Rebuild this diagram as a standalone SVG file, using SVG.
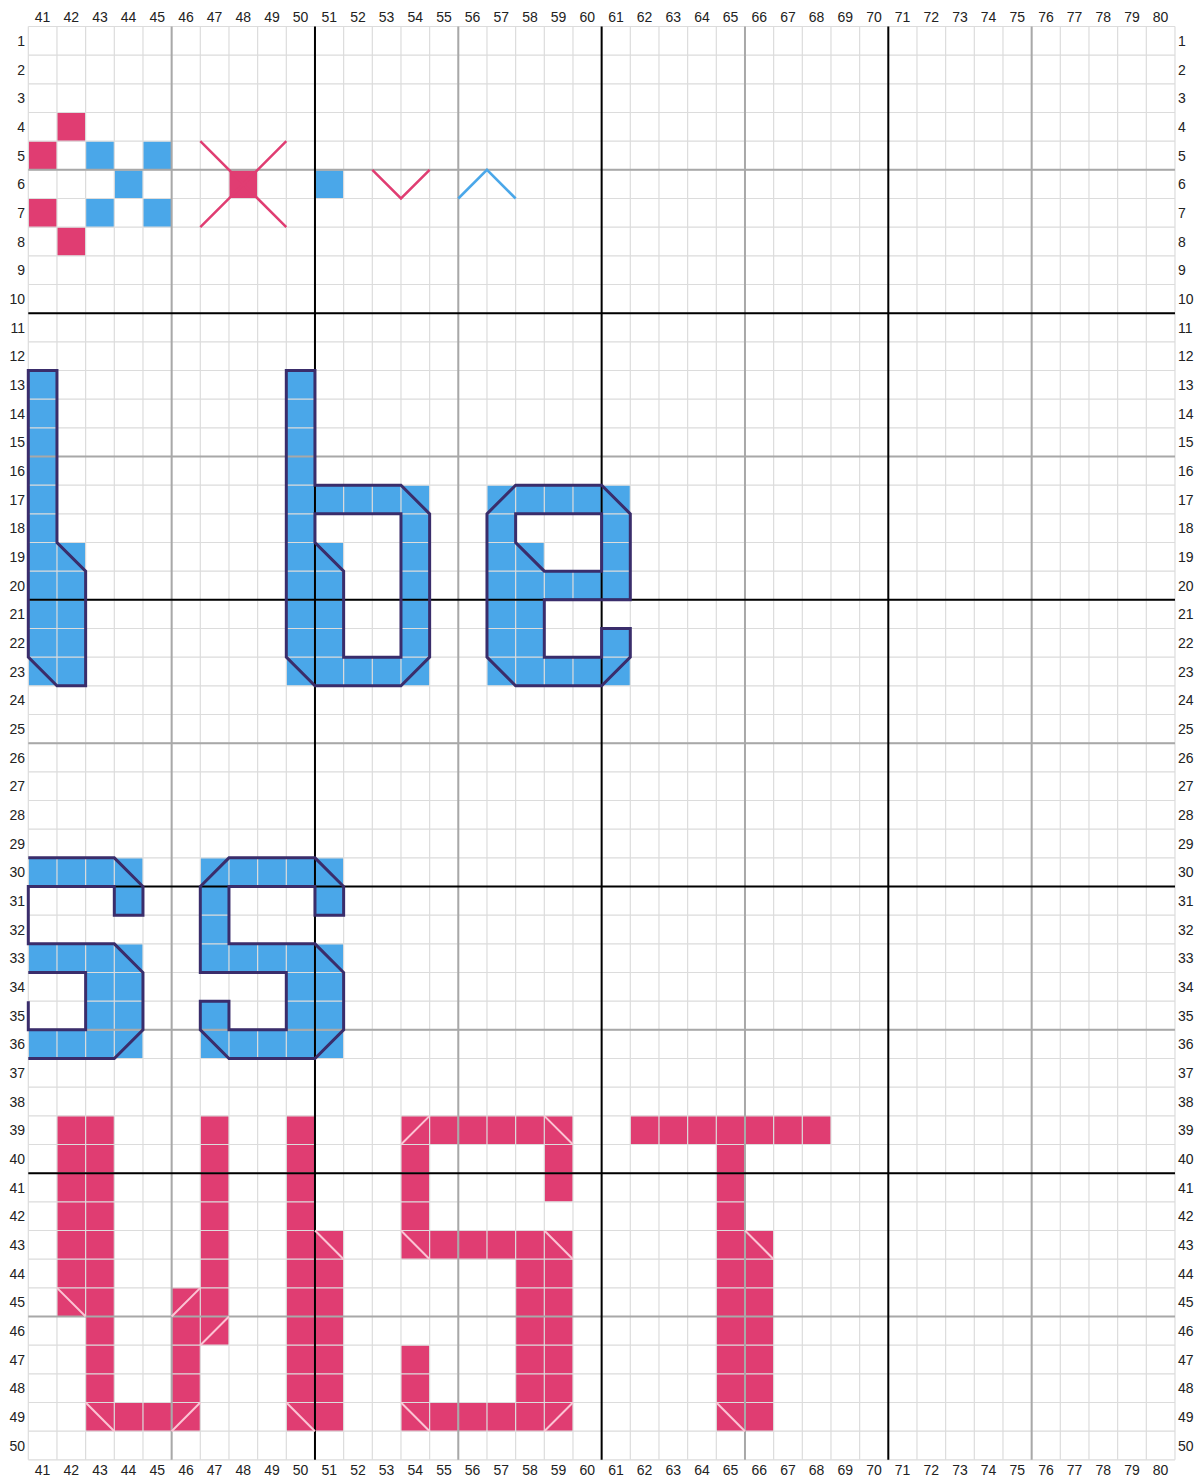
<svg xmlns="http://www.w3.org/2000/svg" width="1198" height="1477" viewBox="0 0 1198 1477">
<style>
.lbl{font-family:"Liberation Sans",Arial,sans-serif;font-size:14px;fill:#222}
.mid{text-anchor:middle}
.end{text-anchor:end}
.bl{fill:#4aa7e9}
.pk{fill:#e03d72}
.gl{fill:none;stroke:#dcdcdc;stroke-width:1.2;vector-effect:non-scaling-stroke}
.gg{fill:none;stroke:#a8a8a8;stroke-width:2;vector-effect:non-scaling-stroke}
.gk{fill:none;stroke:#000;stroke-width:2;vector-effect:non-scaling-stroke}
.ol{fill:none;stroke:#3a2d6b;stroke-width:3;stroke-linejoin:miter;vector-effect:non-scaling-stroke}
.dg{fill:none;stroke:#fbc4d4;stroke-width:2;vector-effect:non-scaling-stroke}
.xp{fill:none;stroke:#e03d72;stroke-width:2.5;vector-effect:non-scaling-stroke}
.xb{fill:none;stroke:#4aa7e9;stroke-width:2.5;vector-effect:non-scaling-stroke}
</style>
<rect width="1198" height="1477" fill="#fff"/>
<g transform="translate(28.3 26.5) scale(28.667)">
  <g id="fills">
    <g id="pattern">
      <path class="pk" d="M1 3h1v1h-1zM0 4h1v1h-1zM0 6h1v1h-1zM1 7h1v1h-1zM7 5h1v1h-1z"/>
      <path class="bl" d="M2 4h1v1h-1zM4 4h1v1h-1zM3 5h1v1h-1zM2 6h1v1h-1zM4 6h1v1h-1zM10 5h1v1h-1z"/>
    </g>
    <g id="letter-l-fill">
      <path class="bl" d="M0 12h1v11h-1zM1 18h1v5h-1z"/>
    </g>
    <g id="letter-b-fill">
      <path class="bl" d="M9 12h1v11h-1zM10 16h4v1h-4zM13 17h1v6h-1zM10 18h1v5h-1zM11 22h2v1h-2z"/>
    </g>
    <g id="letter-e-fill">
      <path class="bl" d="M16 16h1v7h-1zM17 16h4v1h-4zM17 18h1v5h-1zM20 17h1v3h-1zM18 19h2v1h-2zM20 21h1v1h-1zM18 22h3v1h-3z"/>
    </g>
    <g id="letter-s1-fill">
      <path class="bl" d="M0 29h4v1h-4zM3 30h1v1h-1zM0 32h4v1h-4zM2 33h2v2h-2zM0 35h4v1h-4z"/>
    </g>
    <g id="letter-s2-fill">
      <path class="bl" d="M6 29h5v1h-5zM6 30h1v3h-1zM10 30h1v1h-1zM7 32h4v1h-4zM9 33h2v3h-2zM6 34h1v2h-1zM7 35h2v1h-2z"/>
    </g>
    <g id="pink-u-fill">
      <path class="pk" d="M1 38h1v7h-1zM2 38h1v11h-1zM3 48h2v1h-2zM5 44h1v5h-1zM6 38h1v8h-1z"/>
    </g>
    <g id="pink-b-fill">
      <path class="pk" d="M9 38h1v11h-1zM10 42h1v7h-1z"/>
    </g>
    <g id="pink-s-fill">
      <path class="pk" d="M13 38h1v5h-1zM14 38h5v1h-5zM18 39h1v2h-1zM14 42h5v1h-5zM17 43h2v5h-2zM13 46h1v2h-1zM13 48h6v1h-6z"/>
    </g>
    <g id="pink-t-fill">
      <path class="pk" d="M21 38h7v1h-7zM24 39h1v10h-1zM25 42h1v7h-1z"/>
    </g>
  </g>
  <g id="grid">
    <path class="gl" d="M0 0V50M1 0V50M2 0V50M3 0V50M4 0V50M5 0V50M6 0V50M7 0V50M8 0V50M9 0V50M10 0V50M11 0V50M12 0V50M13 0V50M14 0V50M15 0V50M16 0V50M17 0V50M18 0V50M19 0V50M20 0V50M21 0V50M22 0V50M23 0V50M24 0V50M25 0V50M26 0V50M27 0V50M28 0V50M29 0V50M30 0V50M31 0V50M32 0V50M33 0V50M34 0V50M35 0V50M36 0V50M37 0V50M38 0V50M39 0V50M40 0V50"/>
    <path class="gl" d="M0 0H40M0 1H40M0 2H40M0 3H40M0 4H40M0 5H40M0 6H40M0 7H40M0 8H40M0 9H40M0 10H40M0 11H40M0 12H40M0 13H40M0 14H40M0 15H40M0 16H40M0 17H40M0 18H40M0 19H40M0 20H40M0 21H40M0 22H40M0 23H40M0 24H40M0 25H40M0 26H40M0 27H40M0 28H40M0 29H40M0 30H40M0 31H40M0 32H40M0 33H40M0 34H40M0 35H40M0 36H40M0 37H40M0 38H40M0 39H40M0 40H40M0 41H40M0 42H40M0 43H40M0 44H40M0 45H40M0 46H40M0 47H40M0 48H40M0 49H40M0 50H40"/>
    <path class="gg" d="M5 0V50M15 0V50M25 0V50M35 0V50M0 5H40M0 15H40M0 25H40M0 35H40M0 45H40"/>
    <path class="gk" d="M10 0V50M20 0V50M30 0V50M0 10H40M0 20H40M0 30H40M0 40H40"/>
  </g>
  <g id="marks">
    <g id="cross"><path class="xp" d="M6 4L9 7M9 4L6 7"/></g>
    <g id="vee"><path class="xp" d="M12 5L13 6L14 5"/></g>
    <g id="caret"><path class="xb" d="M15 6L16 5L17 6"/></g>
  </g>
  <g id="outlines">
    <g id="letter-l"><path class="ol" d="M0 12H1V18L2 19V23H1L0 22Z"/></g>
    <g id="letter-b"><path class="ol" d="M9 12H10V16H13L14 17V22L13 23H10L9 22ZM10 17H13V22H11V19L10 18Z"/></g>
    <g id="letter-e"><path class="ol" d="M17 16H20L21 17V20H18V22H20V21H21V22L20 23H17L16 22V17ZM17 17H20V19H18L17 18Z"/></g>
    <g id="letter-s1"><path class="ol" d="M0 29H3L4 30V31H3V30H0V32H3L4 33V35L3 36H0M0 34V35H2V33H0"/></g>
    <g id="letter-s2"><path class="ol" d="M7 29H10L11 30V31H10V30H7V32H10L11 33V35L10 36H7L6 35V34H7V35H9V33H6V30Z"/></g>
  </g>
  <g id="chamfers">
    <path class="dg" d="M1 44L2 45M2 48L3 49M5 45L6 44M5 49L6 48M6 46L7 45M9 48L10 49M10 42L11 43"/>
    <path class="dg" d="M13 39L14 38M18 38L19 39M13 42L14 43M18 42L19 43M13 48L14 49M18 49L19 48"/>
    <path class="dg" d="M25 42L26 43M24 48L25 49"/>
  </g>
</g>
<g id="labels">
<text class="lbl mid" y="22"><tspan x="42.6">41</tspan><tspan x="71.3">42</tspan><tspan x="100">43</tspan><tspan x="128.6">44</tspan><tspan x="157.3">45</tspan><tspan x="186">46</tspan><tspan x="214.6">47</tspan><tspan x="243.3">48</tspan><tspan x="272">49</tspan><tspan x="300.6">50</tspan><tspan x="329.3">51</tspan><tspan x="358">52</tspan><tspan x="386.6">53</tspan><tspan x="415.3">54</tspan><tspan x="444">55</tspan><tspan x="472.6">56</tspan><tspan x="501.3">57</tspan><tspan x="530">58</tspan><tspan x="558.6">59</tspan><tspan x="587.3">60</tspan><tspan x="616">61</tspan><tspan x="644.6">62</tspan><tspan x="673.3">63</tspan><tspan x="702">64</tspan><tspan x="730.6">65</tspan><tspan x="759.3">66</tspan><tspan x="788">67</tspan><tspan x="816.6">68</tspan><tspan x="845.3">69</tspan><tspan x="874">70</tspan><tspan x="902.6">71</tspan><tspan x="931.3">72</tspan><tspan x="960">73</tspan><tspan x="988.6">74</tspan><tspan x="1017.3">75</tspan><tspan x="1046">76</tspan><tspan x="1074.6">77</tspan><tspan x="1103.3">78</tspan><tspan x="1132">79</tspan><tspan x="1160.6">80</tspan></text>
<text class="lbl mid" y="1475"><tspan x="42.6">41</tspan><tspan x="71.3">42</tspan><tspan x="100">43</tspan><tspan x="128.6">44</tspan><tspan x="157.3">45</tspan><tspan x="186">46</tspan><tspan x="214.6">47</tspan><tspan x="243.3">48</tspan><tspan x="272">49</tspan><tspan x="300.6">50</tspan><tspan x="329.3">51</tspan><tspan x="358">52</tspan><tspan x="386.6">53</tspan><tspan x="415.3">54</tspan><tspan x="444">55</tspan><tspan x="472.6">56</tspan><tspan x="501.3">57</tspan><tspan x="530">58</tspan><tspan x="558.6">59</tspan><tspan x="587.3">60</tspan><tspan x="616">61</tspan><tspan x="644.6">62</tspan><tspan x="673.3">63</tspan><tspan x="702">64</tspan><tspan x="730.6">65</tspan><tspan x="759.3">66</tspan><tspan x="788">67</tspan><tspan x="816.6">68</tspan><tspan x="845.3">69</tspan><tspan x="874">70</tspan><tspan x="902.6">71</tspan><tspan x="931.3">72</tspan><tspan x="960">73</tspan><tspan x="988.6">74</tspan><tspan x="1017.3">75</tspan><tspan x="1046">76</tspan><tspan x="1074.6">77</tspan><tspan x="1103.3">78</tspan><tspan x="1132">79</tspan><tspan x="1160.6">80</tspan></text>
<text class="lbl end"><tspan x="25" y="45.8">1</tspan><tspan x="25" y="74.5">2</tspan><tspan x="25" y="103.2">3</tspan><tspan x="25" y="131.8">4</tspan><tspan x="25" y="160.5">5</tspan><tspan x="25" y="189.2">6</tspan><tspan x="25" y="217.8">7</tspan><tspan x="25" y="246.5">8</tspan><tspan x="25" y="275.2">9</tspan><tspan x="25" y="303.8">10</tspan><tspan x="25" y="332.5">11</tspan><tspan x="25" y="361.2">12</tspan><tspan x="25" y="389.8">13</tspan><tspan x="25" y="418.5">14</tspan><tspan x="25" y="447.2">15</tspan><tspan x="25" y="475.8">16</tspan><tspan x="25" y="504.5">17</tspan><tspan x="25" y="533.2">18</tspan><tspan x="25" y="561.8">19</tspan><tspan x="25" y="590.5">20</tspan><tspan x="25" y="619.2">21</tspan><tspan x="25" y="647.8">22</tspan><tspan x="25" y="676.5">23</tspan><tspan x="25" y="705.2">24</tspan><tspan x="25" y="733.8">25</tspan><tspan x="25" y="762.5">26</tspan><tspan x="25" y="791.2">27</tspan><tspan x="25" y="819.8">28</tspan><tspan x="25" y="848.5">29</tspan><tspan x="25" y="877.2">30</tspan><tspan x="25" y="905.8">31</tspan><tspan x="25" y="934.5">32</tspan><tspan x="25" y="963.2">33</tspan><tspan x="25" y="991.8">34</tspan><tspan x="25" y="1020.5">35</tspan><tspan x="25" y="1049.2">36</tspan><tspan x="25" y="1077.8">37</tspan><tspan x="25" y="1106.5">38</tspan><tspan x="25" y="1135.2">39</tspan><tspan x="25" y="1163.8">40</tspan><tspan x="25" y="1192.5">41</tspan><tspan x="25" y="1221.2">42</tspan><tspan x="25" y="1249.8">43</tspan><tspan x="25" y="1278.5">44</tspan><tspan x="25" y="1307.2">45</tspan><tspan x="25" y="1335.8">46</tspan><tspan x="25" y="1364.5">47</tspan><tspan x="25" y="1393.2">48</tspan><tspan x="25" y="1421.8">49</tspan><tspan x="25" y="1450.5">50</tspan></text>
<text class="lbl"><tspan x="1178" y="45.8">1</tspan><tspan x="1178" y="74.5">2</tspan><tspan x="1178" y="103.2">3</tspan><tspan x="1178" y="131.8">4</tspan><tspan x="1178" y="160.5">5</tspan><tspan x="1178" y="189.2">6</tspan><tspan x="1178" y="217.8">7</tspan><tspan x="1178" y="246.5">8</tspan><tspan x="1178" y="275.2">9</tspan><tspan x="1178" y="303.8">10</tspan><tspan x="1178" y="332.5">11</tspan><tspan x="1178" y="361.2">12</tspan><tspan x="1178" y="389.8">13</tspan><tspan x="1178" y="418.5">14</tspan><tspan x="1178" y="447.2">15</tspan><tspan x="1178" y="475.8">16</tspan><tspan x="1178" y="504.5">17</tspan><tspan x="1178" y="533.2">18</tspan><tspan x="1178" y="561.8">19</tspan><tspan x="1178" y="590.5">20</tspan><tspan x="1178" y="619.2">21</tspan><tspan x="1178" y="647.8">22</tspan><tspan x="1178" y="676.5">23</tspan><tspan x="1178" y="705.2">24</tspan><tspan x="1178" y="733.8">25</tspan><tspan x="1178" y="762.5">26</tspan><tspan x="1178" y="791.2">27</tspan><tspan x="1178" y="819.8">28</tspan><tspan x="1178" y="848.5">29</tspan><tspan x="1178" y="877.2">30</tspan><tspan x="1178" y="905.8">31</tspan><tspan x="1178" y="934.5">32</tspan><tspan x="1178" y="963.2">33</tspan><tspan x="1178" y="991.8">34</tspan><tspan x="1178" y="1020.5">35</tspan><tspan x="1178" y="1049.2">36</tspan><tspan x="1178" y="1077.8">37</tspan><tspan x="1178" y="1106.5">38</tspan><tspan x="1178" y="1135.2">39</tspan><tspan x="1178" y="1163.8">40</tspan><tspan x="1178" y="1192.5">41</tspan><tspan x="1178" y="1221.2">42</tspan><tspan x="1178" y="1249.8">43</tspan><tspan x="1178" y="1278.5">44</tspan><tspan x="1178" y="1307.2">45</tspan><tspan x="1178" y="1335.8">46</tspan><tspan x="1178" y="1364.5">47</tspan><tspan x="1178" y="1393.2">48</tspan><tspan x="1178" y="1421.8">49</tspan><tspan x="1178" y="1450.5">50</tspan></text>
</g>
</svg>
